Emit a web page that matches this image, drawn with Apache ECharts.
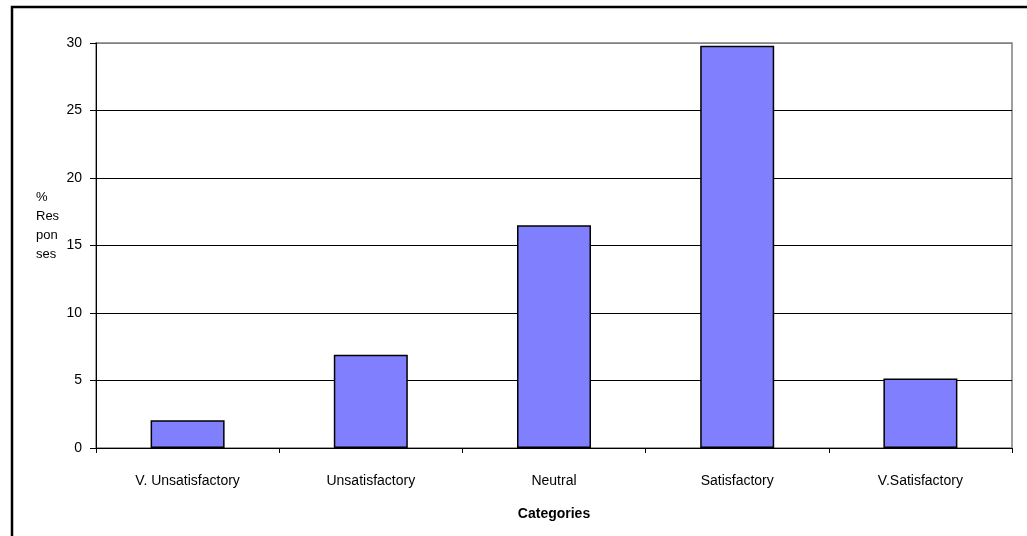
<!DOCTYPE html>
<html>
<head>
<meta charset="utf-8">
<script src="https://cdn.jsdelivr.net/npm/echarts@6/dist/echarts.min.js"></script>
<style>
  html, body { margin: 0; padding: 0; background: #fff; }
  #chart { width: 1027px; height: 536px; }
</style>
</head>
<body>
<div id="chart"></div>
<script>
// Survey results: share of responses per satisfaction category
const categories = ['V. Unsatisfactory', 'Unsatisfactory', 'Neutral', 'Satisfactory', 'V.Satisfactory'];
const responses = [2.05, 6.9, 16.5, 29.8, 5.15];
const yTicks = [0, 5, 10, 15, 20, 25, 30];
const yTitleLines = ['%', 'Res', 'pon', 'ses'];
const xTitle = 'Categories';

const FONT = '"Liberation Sans", Arial, sans-serif';

const chart = echarts.init(document.getElementById('chart'), null, { renderer: 'canvas' });

chart.setOption({
  animation: false,
  backgroundColor: '#fff',
  textStyle: { fontFamily: FONT },
  grid: {
    left: 96, right: 15, top: 43, bottom: 88,
    show: true, borderColor: '#808080', borderWidth: 1.5, backgroundColor: 'transparent'
  },
  xAxis: {
    type: 'category',
    data: categories,
    axisLine: { lineStyle: { color: '#000', width: 1 } },
    axisTick: { show: true, alignWithLabel: false, length: 5, inside: false, lineStyle: { color: '#000' } },
    axisLabel: { color: '#000', fontSize: 14, fontFamily: FONT, margin: 26, interval: 0 },
    name: xTitle,
    nameLocation: 'middle',
    nameGap: 59,
    nameTextStyle: { color: '#000', fontSize: 14, fontWeight: 'bold', fontFamily: FONT }
  },
  yAxis: {
    type: 'value',
    min: yTicks[0],
    max: yTicks[yTicks.length - 1],
    interval: 5,
    axisLine: { show: true, lineStyle: { color: '#000', width: 1 } },
    axisTick: { show: true, length: 6, lineStyle: { color: '#000' } },
    axisLabel: { color: '#000', fontSize: 14, fontFamily: FONT, margin: 14 },
    splitLine: {
      show: true,
      lineStyle: { color: ['#000', '#000', '#000', '#000', '#000', '#000', '#808080'], width: 1 }
    }
  },
  series: [{
    type: 'bar',
    data: responses,
    barWidth: 74,
    itemStyle: { color: '#8080FF', borderColor: '#000', borderWidth: 1.5 }
  }],
  graphic: [
    {
      type: 'rect',
      shape: { x: 12, y: 7, width: 1100, height: 700 },
      style: { fill: 'none', stroke: '#000', lineWidth: 2.5 },
      silent: true
    },
    {
      type: 'text',
      left: 36,
      top: 188,
      style: {
        text: yTitleLines.join('\n'),
        fill: '#000',
        font: '13px ' + FONT,
        lineHeight: 19
      }
    }
  ]
});
</script>
</body>
</html>
